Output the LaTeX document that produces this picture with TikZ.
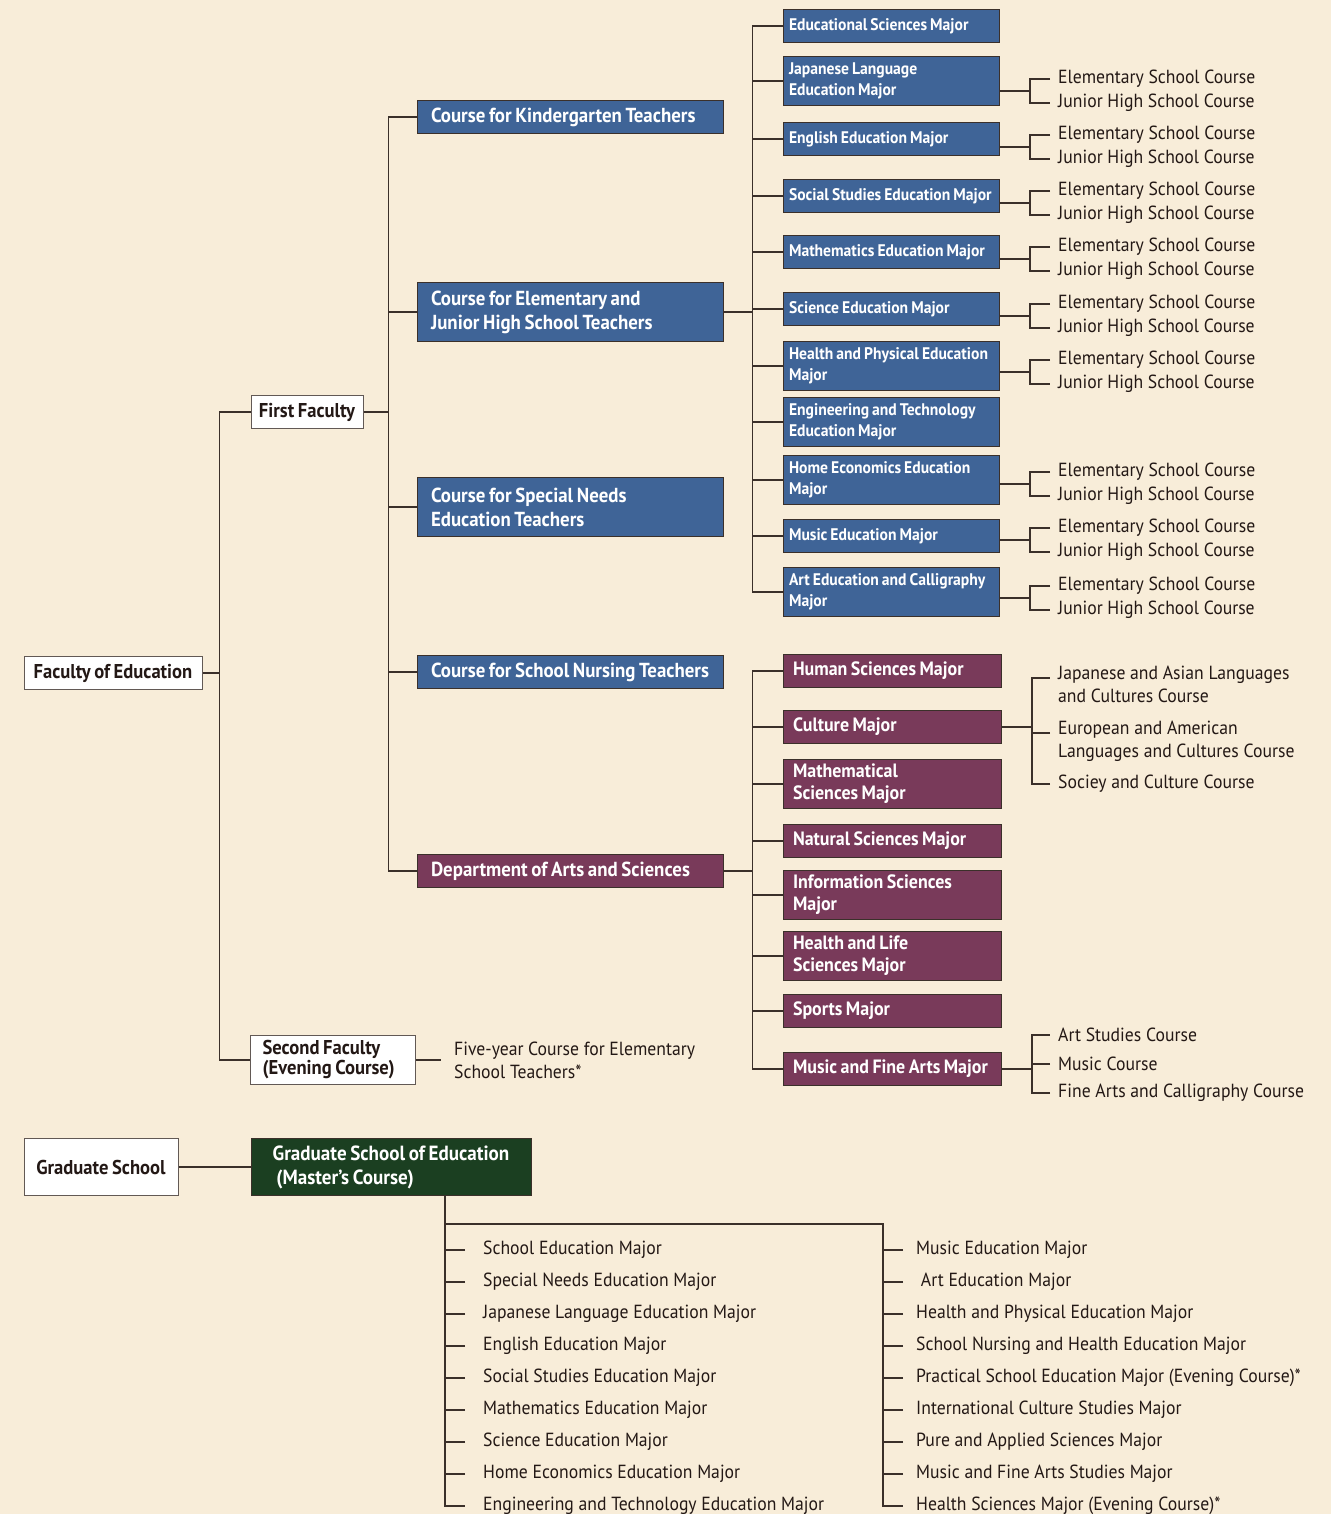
\documentclass[tikz,border=0pt]{standalone}
\usepackage{fontspec}
\setmainfont{PT Sans}[FakeStretch=0.93]
\usetikzlibrary{positioning,calc}

\definecolor{paper}{HTML}{F8EDD9}
\definecolor{edublue}{HTML}{3F6497}
\definecolor{artsred}{HTML}{793A5A}
\definecolor{gradgreen}{HTML}{1B3F21}
\definecolor{linebrown}{HTML}{3B302A}
\definecolor{ink}{HTML}{231815}

% tight word spaces, no hyphenation in the boxes
\newcommand{\tightsp}{\spaceskip=.18em plus .05em minus .03em\relax
  \hyphenpenalty=10000\exhyphenpenalty=10000\relax}

\tikzset{
  treeline/.style={draw=linebrown, line width=1.2pt},
  whitebox/.style={draw=linebrown!80, line width=1pt, fill=white, text=ink,
    font=\bfseries\fontsize{20}{22}\selectfont, execute at begin node=\tightsp,
    inner xsep=6pt, inner ysep=2pt},
  coursebox/.style={draw=linebrown, line width=1pt, fill=edublue, text=white,
    font=\bfseries\fontsize{20.3}{24}\selectfont, execute at begin node=\tightsp,
    text width=278pt, inner xsep=14pt, inner ysep=2pt, minimum height=33pt, align=flush left},
  majorbox/.style={draw=linebrown, line width=1pt, fill=edublue, text=white,
    font=\bfseries\fontsize{16.8}{21}\selectfont, execute at begin node=\tightsp,
    text width=204pt, inner xsep=6pt, inner ysep=2pt, minimum height=33pt, align=flush left},
  artsbox/.style={draw=linebrown, line width=1pt, fill=artsred, text=white,
    font=\bfseries\fontsize{19.3}{22}\selectfont, execute at begin node=\tightsp,
    text width=198pt, inner xsep=10pt, inner ysep=2pt, minimum height=33pt, align=flush left},
  plain/.style={text=ink, font=\fontsize{19}{23}\selectfont, anchor=west,
    inner xsep=8pt, inner ysep=0pt, yshift=-3pt, align=left},
}

\begin{document}
\begin{tikzpicture}[x=1pt, y=-1pt]
\path[fill=paper, use as bounding box] (0,0) rectangle (1331,1514);

% faculty level
\node[whitebox, minimum width=178pt, minimum height=33pt] (foe) at (113,673) {Faculty of Education};
\node[whitebox, minimum width=112pt, minimum height=33pt] (ff) at (307,412) {First Faculty};
\node[whitebox, minimum width=165pt, minimum height=49pt, align=flush left, text width=141pt, inner xsep=12pt,
  font=\bfseries\fontsize{20}{20}\selectfont] (sf) at (333,1060) {Second Faculty\\(Evening Course)};
\node[plain, inner xsep=13pt] (fy) at (441,1057) {Five-year Course for Elementary\\School Teachers*};

\coordinate (t1) at ($(foe.east)+(17,0)$);
\draw[treeline] (foe.east) -- (t1);
\draw[treeline] (ff.west) -- (ff.west -| t1) -- (sf.west -| t1) -- (sf.west);
\draw[treeline] (sf.east) -- (fy.west |- sf.east);

% courses of the first faculty
\node[coursebox] (kg) at (570,117) {Course for Kindergarten Teachers};
\node[coursebox, minimum height=59pt] (ej) at (570,312) {Course for Elementary and\\Junior High School Teachers};
\node[coursebox, minimum height=59pt] (sn) at (570,507) {Course for Special Needs\\Education Teachers};
\node[coursebox] (nu) at (570,672) {Course for School Nursing Teachers};
\node[coursebox, fill=artsred] (das) at (570,871) {Department of Arts and Sciences};

\coordinate (t2) at ($(ff.east)+(25,0)$);
\draw[treeline] (ff.east) -- (t2);
\draw[treeline] (kg.west) -- (kg.west -| t2) -- (das.west -| t2) -- (das.west);
\foreach \n in {ej,sn,nu}
  \draw[treeline] (\n.west) -- (\n.west -| t2);

% majors for elementary and junior high school teachers
\node[majorbox] (es) at (891,26) {Educational Sciences Major};
\node[majorbox, minimum height=49pt] (jl) at (891,81) {Japanese Language\\Education Major};
\node[majorbox] (en) at (891,139) {English Education Major};
\node[majorbox] (ss) at (891,196) {Social Studies Education Major};
\node[majorbox] (ma) at (891,252) {Mathematics Education Major};
\node[majorbox] (sc) at (891,309) {Science Education Major};
\node[majorbox, minimum height=49pt] (hp) at (891,366) {Health and Physical Education\\Major};
\node[majorbox, minimum height=49pt] (et) at (891,422) {Engineering and Technology\\Education Major};
\node[majorbox, minimum height=49pt] (he) at (891,480) {Home Economics Education\\Major};
\node[majorbox] (mu) at (891,536) {Music Education Major};
\node[majorbox, minimum height=49pt] (ar) at (891,592) {Art Education and Calligraphy\\Major};

\coordinate (t3) at ($(ej.east)+(29,0)$);
\draw[treeline] (ej.east) -- (t3);
\draw[treeline] (es.west) -- (es.west -| t3) -- (ar.west -| t3) -- (ar.west);
\foreach \m in {jl,en,ss,ma,sc,hp,et,he,mu}
  \draw[treeline] (\m.west) -- (\m.west -| t3);

\foreach \m/\y in {jl/76,en/132,ss/188,ma/244,sc/301,hp/357,he/469,mu/525,ar/583}{
  \node[plain] (e\m) at (1050,\y) {Elementary School Course};
  \node[plain] (j\m) at (1050,\y+24) {Junior High School Course};
  \coordinate (k\m) at ($(e\m.west)!.5!(j\m.west)+(-20,0)$);
  \draw[treeline] (e\m.west) -- ++(-20,0) |- (j\m.west);
  \draw[treeline] (\m.east |- k\m) -- (k\m);
}

% majors of the department of arts and sciences
\node[artsbox] (hs) at (892,671) {Human Sciences Major};
\node[artsbox] (cult) at (892,727) {Culture Major};
\node[artsbox, minimum height=49pt] (ms) at (892,784) {Mathematical\\Sciences Major};
\node[artsbox] (ns) at (892,841) {Natural Sciences Major};
\node[artsbox, minimum height=49pt] (is) at (892,895) {Information Sciences\\Major};
\node[artsbox, minimum height=49pt] (hl) at (892,956) {Health and Life\\Sciences Major};
\node[artsbox] (sp) at (892,1011) {Sports Major};
\node[artsbox] (mfa) at (892,1069) {Music and Fine Arts Major};

\coordinate (t4) at ($(das.east)+(29,0)$);
\draw[treeline] (das.east) -- (t4);
\draw[treeline] (hs.west) -- (hs.west -| t4) -- (mfa.west -| t4) -- (mfa.west);
\foreach \m in {cult,ms,ns,is,hl,sp}
  \draw[treeline] (\m.west) -- (\m.west -| t4);

\node[plain, anchor=north west] (cu1) at (1050,663) {Japanese and Asian Languages\\and Cultures Course};
\node[plain, anchor=north west] (cu2) at (1050,718) {European and American\\Languages and Cultures Course};
\node[plain] (cu3) at (1050,781) {Sociey and Culture Course};
\coordinate (kc) at ($(cu3.west)+(-18,0)$);
\draw[treeline] (cu3.west) -- (kc) |- ([yshift=-12pt]cu1.north west);
\draw[treeline] ([yshift=-12pt]cu2.north west) -- ++(-18,0);
\draw[treeline] (cult.east) -- (cult.east -| kc);

\node[plain] (mf1) at (1050,1032) {Art Studies Course};
\node[plain] (mf2) at (1050,1061) {Music Course};
\node[plain] (mf3) at (1050,1090) {Fine Arts and Calligraphy Course};
\coordinate (km) at ($(mf3.west)+(-18,0)$);
\draw[treeline] (mf3.west) -- (km) |- (mf1.west);
\draw[treeline] (mf2.west) -- (mf2.west -| km);
\draw[treeline] (mfa.east) -- (mfa.east -| km);

% graduate school
\node[whitebox, minimum width=154pt, minimum height=57pt] (gs) at (101,1167) {Graduate School};
\node[whitebox, fill=gradgreen, draw=linebrown, text=white, minimum width=280pt, minimum height=57pt,
  align=left, font=\bfseries\fontsize{20.5}{24}\selectfont]
  (gse) at (391,1167) {Graduate School of Education\\\ (Master's Course)};
\draw[treeline] (gs.east) -- (gse.west);

\foreach \t [count=\i] in {School Education Major, Special Needs Education Major,
    Japanese Language Education Major, English Education Major,
    Social Studies Education Major, Mathematics Education Major,
    Science Education Major, Home Economics Education Major,
    Engineering and Technology Education Major}
  \node[plain, inner xsep=18pt] (gl\i) at (465,1215+32*\i) {\t};
\foreach \t [count=\i] in {Music Education Major, \ Art Education Major,
    Health and Physical Education Major, School Nursing and Health Education Major,
    Practical School Education Major (Evening Course)*, International Culture Studies Major,
    Pure and Applied Sciences Major, Music and Fine Arts Studies Major,
    Health Sciences Major (Evening Course)*}
  \node[plain, inner xsep=13pt] (gr\i) at (903,1215+32*\i) {\t};

\coordinate (gl0) at (445,1224);
\coordinate (gr0) at (883,1224);
\draw[treeline] (gse.south -| gl0) -- (gl0 |- gl9.west) -- (gl9.west);
\draw[treeline] (gl0) -- (gr0) -- (gr0 |- gr9.west) -- (gr9.west);
\foreach \i in {1,...,8}{
  \draw[treeline] (gl\i.west) -- (gl\i.west -| gl0);
  \draw[treeline] (gr\i.west) -- (gr\i.west -| gr0);
}
\end{tikzpicture}
\end{document}
